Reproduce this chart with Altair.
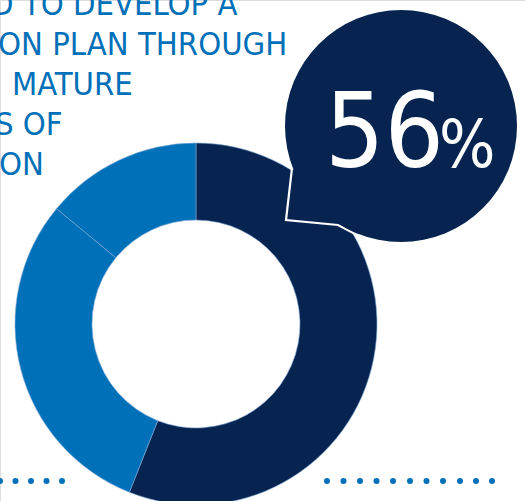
import altair as alt
import pandas as pd

W, H = 525, 501
NAVY = "#06244f"
BLUE = "#0070b8"
FONT = "DejaVu Sans Condensed, DejaVu Sans, sans-serif"

# donut data
seg_names = ["Segment A", "Segment B", "Segment C"]
seg_values = [56, 30, 14]
seg_colors = [NAVY, BLUE, BLUE]

# headline text lines (cropped at left/top in the original)
text_lines = ["D TO DEVELOP A", "ON PLAN THROUGH", "MATURE", "S OF", "ON"]
text_x = [-9, -2, 12, -5, -1]
text_y = [15, 55, 95, 135, 175]

# bubble callout
callout_value = "56"
callout_unit = "%"
bubble_cx, bubble_cy, bubble_r = 401, 126, 116
tail_x = [292, 286, 338, 359]
tail_y = [168, 220, 225, 236]

# dotted rules
dots_left_x = [0, 15.5, 31, 46.5, 62]
dots_right_x = [327, 343.5, 360, 376.5, 393, 410, 426.5, 443, 460, 476, 492]
dots_y = 481

xs = alt.Scale(domain=[0, W], range=[0, W])
ys = alt.Scale(domain=[0, H], range=[0, H])
X = lambda f: alt.X(f, scale=xs, axis=None)
Y = lambda f: alt.Y(f, scale=ys, axis=None)

donut_df = pd.DataFrame({"name": seg_names, "value": seg_values,
                         "color": seg_colors, "order": [0, 1, 2]})
donut = alt.Chart(donut_df).mark_arc(
    radius=181, radius2=104, stroke="#7fa9d6", strokeWidth=0.6
).encode(
    theta=alt.Theta("value:Q", stack=True),
    color=alt.Color("color:N", scale=None),
    order=alt.Order("order:Q"),
    x=alt.value(196), y=alt.value(324),
)

tail_df = pd.DataFrame({"x": tail_x, "y": tail_y, "i": list(range(len(tail_x)))})
tail = alt.Chart(tail_df).mark_line(
    fill=NAVY, stroke="white", strokeWidth=2.2, strokeJoin="miter"
).encode(x=X("x:Q"), y=Y("y:Q"), order="i:Q")

bubble_df = pd.DataFrame({"x": [bubble_cx], "y": [bubble_cy]})
bubble = alt.Chart(bubble_df).mark_circle(
    size=(2 * bubble_r) ** 2, color=NAVY, opacity=1
).encode(x=X("x:Q"), y=Y("y:Q"))

big_df = pd.DataFrame({"x": [325, 439], "y": [167, 167],
                       "t": [callout_value, callout_unit]})
big56 = alt.Chart(big_df.iloc[[0]]).mark_text(
    align="left", baseline="alphabetic", color="white", font=FONT, fontSize=104
).encode(x=X("x:Q"), y=Y("y:Q"), text="t:N")
bigpct = alt.Chart(big_df.iloc[[1]]).mark_text(
    align="left", baseline="alphabetic", color="white", font=FONT, fontSize=66
).encode(x=X("x:Q"), y=Y("y:Q"), text="t:N")

txt_df = pd.DataFrame({"x": text_x, "y": text_y, "t": text_lines})
txt = alt.Chart(txt_df).mark_text(
    align="left", baseline="alphabetic", color=BLUE, font=FONT, fontSize=32.5
).encode(x=X("x:Q"), y=Y("y:Q"), text="t:N")

dots_df = pd.DataFrame({"x": dots_left_x + dots_right_x,
                        "y": [dots_y] * (len(dots_left_x) + len(dots_right_x))})
dots = alt.Chart(dots_df).mark_circle(size=36, color=BLUE, opacity=1).encode(
    x=X("x:Q"), y=Y("y:Q")
)

chart = alt.layer(dots, txt, donut, tail, bubble, big56, bigpct).properties(
    width=W, height=H,
    autosize=alt.AutoSizeParams(type="none"),
    padding=0,
).configure_view(stroke=None).configure(background="white")

chart.save("out.html", embed_options={"renderer": "svg", "actions": False})
